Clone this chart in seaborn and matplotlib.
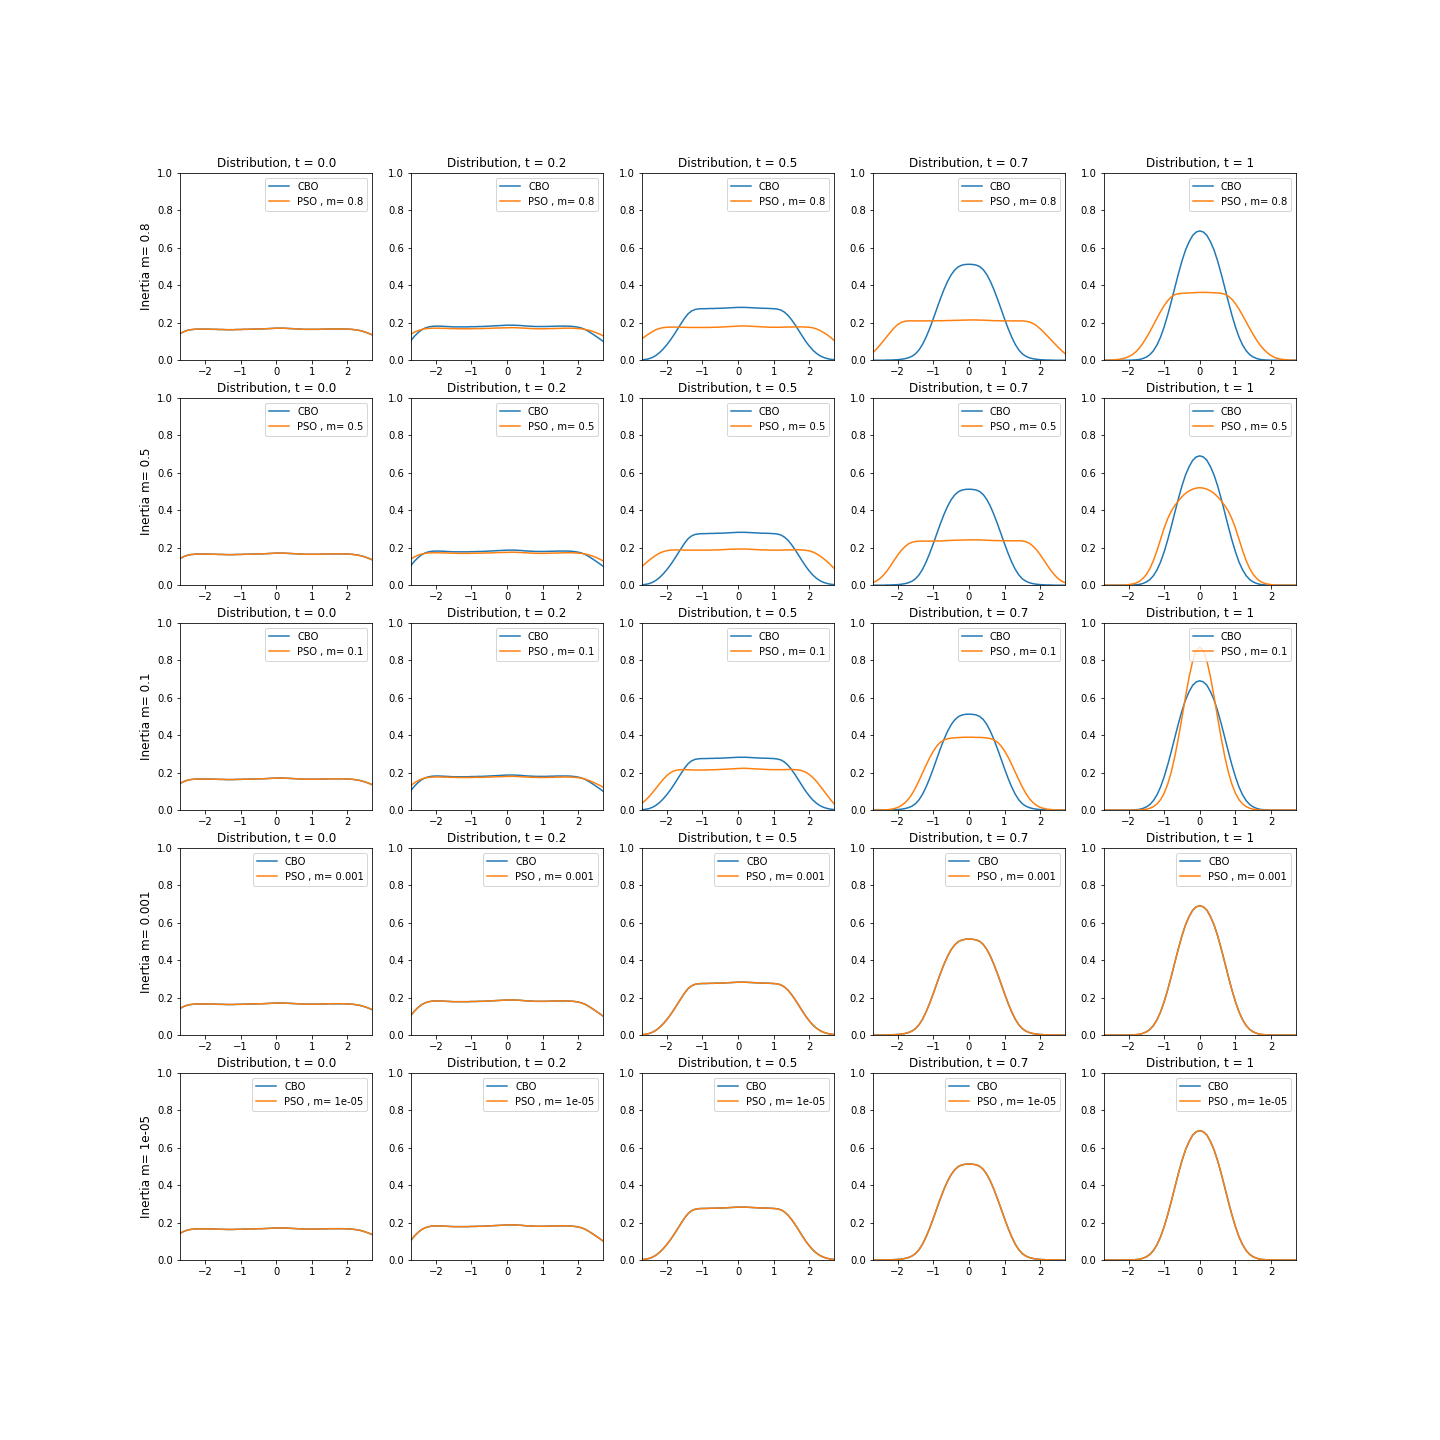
import numpy as np
import pandas as pd
import matplotlib
matplotlib.use("Agg")
import matplotlib.pyplot as plt
import seaborn as sns

# evaluation grid of the density curves
x = np.round(np.linspace(-2.7, 2.7, 55), 1)

times = ["0.0", "0.2", "0.5", "0.7", "1"]
inertias = [0.8, 0.5, 0.1, 0.001, 1e-05]

# t = 0.0 : initial distribution (same for every method)
dens_t00 = [0.142, 0.152, 0.159, 0.163, 0.165, 0.166, 0.166, 0.166, 0.166, 0.165,
            0.165, 0.164, 0.164, 0.163, 0.163, 0.163, 0.164, 0.164, 0.165, 0.165,
            0.166, 0.166, 0.167, 0.167, 0.168, 0.169, 0.170, 0.171, 0.171, 0.171,
            0.170, 0.169, 0.168, 0.167, 0.166, 0.165, 0.165, 0.165, 0.165, 0.165,
            0.166, 0.166, 0.167, 0.167, 0.167, 0.167, 0.167, 0.166, 0.165, 0.163,
            0.160, 0.156, 0.150, 0.143, 0.135]

# CBO densities
cbo_t02 = [0.105, 0.128, 0.147, 0.162, 0.172, 0.178, 0.181, 0.182, 0.182, 0.181,
           0.180, 0.179, 0.178, 0.178, 0.178, 0.178, 0.178, 0.179, 0.179, 0.180,
           0.180, 0.181, 0.182, 0.183, 0.184, 0.185, 0.186, 0.187, 0.187, 0.187,
           0.186, 0.185, 0.183, 0.182, 0.181, 0.180, 0.180, 0.180, 0.180, 0.181,
           0.181, 0.182, 0.182, 0.182, 0.182, 0.181, 0.179, 0.176, 0.171, 0.163,
           0.152, 0.140, 0.127, 0.114, 0.100]
cbo_t05 = [0.002, 0.004, 0.008, 0.015, 0.026, 0.041, 0.060, 0.082, 0.107, 0.135,
           0.165, 0.195, 0.224, 0.248, 0.263, 0.271, 0.274, 0.275, 0.275, 0.276,
           0.276, 0.277, 0.277, 0.278, 0.279, 0.280, 0.281, 0.282, 0.282, 0.282,
           0.281, 0.280, 0.279, 0.278, 0.277, 0.277, 0.276, 0.275, 0.273, 0.268,
           0.257, 0.240, 0.217, 0.190, 0.160, 0.130, 0.101, 0.076, 0.054, 0.037,
           0.024, 0.015, 0.009, 0.005, 0.003]
cbo_t07 = [0.000, 0.000, 0.000, 0.000, 0.001, 0.001, 0.002, 0.003, 0.005, 0.008,
           0.013, 0.021, 0.034, 0.055, 0.085, 0.124, 0.170, 0.221, 0.275, 0.328,
           0.377, 0.420, 0.455, 0.481, 0.498, 0.507, 0.511, 0.512, 0.511, 0.508,
           0.500, 0.484, 0.458, 0.422, 0.378, 0.328, 0.275, 0.221, 0.170, 0.124,
           0.085, 0.055, 0.034, 0.021, 0.013, 0.008, 0.005, 0.003, 0.002, 0.001,
           0.001, 0.000, 0.000, 0.000, 0.000]
cbo_t10 = [0, 0, 0, 0, 0, 0, 0, 0, 0.001, 0.002,
           0.004, 0.009, 0.017, 0.030, 0.051, 0.082, 0.124, 0.178, 0.242, 0.313,
           0.388, 0.462, 0.530, 0.588, 0.632, 0.666, 0.684, 0.690, 0.684, 0.666,
           0.632, 0.588, 0.530, 0.462, 0.388, 0.313, 0.242, 0.178, 0.124, 0.082,
           0.051, 0.030, 0.017, 0.009, 0.004, 0.002, 0.001, 0, 0, 0,
           0, 0, 0, 0, 0]

# PSO, m = 0.8
pso08_t02 = [0.140, 0.150, 0.158, 0.164, 0.168, 0.170, 0.171, 0.171, 0.171, 0.170,
             0.170, 0.169, 0.169, 0.168, 0.168, 0.168, 0.168, 0.168, 0.169, 0.169,
             0.169, 0.170, 0.170, 0.171, 0.172, 0.172, 0.173, 0.173, 0.174, 0.174,
             0.173, 0.172, 0.171, 0.170, 0.169, 0.168, 0.168, 0.168, 0.168, 0.169,
             0.169, 0.170, 0.170, 0.171, 0.171, 0.171, 0.170, 0.169, 0.167, 0.164,
             0.160, 0.154, 0.147, 0.139, 0.130]
pso08_t05 = [0.115, 0.128, 0.141, 0.153, 0.163, 0.170, 0.174, 0.176, 0.177, 0.177,
             0.177, 0.176, 0.176, 0.175, 0.175, 0.175, 0.175, 0.175, 0.175, 0.175,
             0.176, 0.176, 0.177, 0.178, 0.179, 0.180, 0.181, 0.182, 0.183, 0.183,
             0.182, 0.181, 0.180, 0.179, 0.178, 0.177, 0.176, 0.176, 0.176, 0.176,
             0.177, 0.177, 0.177, 0.178, 0.178, 0.178, 0.177, 0.176, 0.173, 0.167,
             0.159, 0.148, 0.136, 0.122, 0.105]
pso08_t07 = [0.040, 0.058, 0.080, 0.103, 0.127, 0.150, 0.172, 0.190, 0.202, 0.208,
             0.210, 0.210, 0.210, 0.210, 0.210, 0.210, 0.210, 0.210, 0.211, 0.211,
             0.211, 0.212, 0.212, 0.213, 0.213, 0.214, 0.214, 0.215, 0.215, 0.215,
             0.214, 0.214, 0.213, 0.212, 0.211, 0.211, 0.210, 0.210, 0.210, 0.210,
             0.210, 0.210, 0.210, 0.208, 0.204, 0.196, 0.184, 0.168, 0.150, 0.130,
             0.110, 0.090, 0.070, 0.052, 0.035]
pso08_t10 = [0, 0, 0.001, 0.002, 0.004, 0.007, 0.012, 0.019, 0.029, 0.044,
             0.064, 0.090, 0.120, 0.153, 0.189, 0.225, 0.260, 0.292, 0.318, 0.338,
             0.350, 0.355, 0.357, 0.358, 0.359, 0.360, 0.361, 0.362, 0.362, 0.362,
             0.361, 0.360, 0.359, 0.357, 0.352, 0.342, 0.325, 0.302, 0.273, 0.240,
             0.205, 0.170, 0.137, 0.106, 0.079, 0.057, 0.039, 0.025, 0.015, 0.009,
             0.005, 0.003, 0.001, 0, 0]

# PSO, m = 0.5
pso05_t02 = [0.140, 0.151, 0.160, 0.166, 0.170, 0.172, 0.173, 0.173, 0.173, 0.172,
             0.172, 0.171, 0.171, 0.170, 0.170, 0.170, 0.170, 0.170, 0.171, 0.171,
             0.171, 0.172, 0.172, 0.173, 0.174, 0.174, 0.175, 0.175, 0.176, 0.176,
             0.175, 0.174, 0.173, 0.172, 0.171, 0.170, 0.170, 0.170, 0.170, 0.171,
             0.171, 0.172, 0.172, 0.173, 0.173, 0.173, 0.172, 0.171, 0.169, 0.166,
             0.161, 0.155, 0.148, 0.139, 0.129]
pso05_t05 = [0.100, 0.116, 0.132, 0.147, 0.160, 0.171, 0.179, 0.184, 0.187, 0.188,
             0.188, 0.188, 0.187, 0.187, 0.187, 0.187, 0.187, 0.187, 0.187, 0.187,
             0.188, 0.188, 0.189, 0.190, 0.191, 0.192, 0.192, 0.193, 0.193, 0.193,
             0.192, 0.191, 0.190, 0.189, 0.188, 0.188, 0.187, 0.187, 0.187, 0.187,
             0.188, 0.188, 0.188, 0.189, 0.189, 0.188, 0.186, 0.183, 0.177, 0.168,
             0.156, 0.142, 0.126, 0.108, 0.090]
pso05_t07 = [0.013, 0.022, 0.035, 0.053, 0.076, 0.103, 0.132, 0.160, 0.185, 0.205,
             0.220, 0.229, 0.233, 0.235, 0.235, 0.235, 0.235, 0.235, 0.236, 0.236,
             0.237, 0.238, 0.239, 0.240, 0.240, 0.241, 0.241, 0.242, 0.242, 0.242,
             0.241, 0.241, 0.240, 0.239, 0.238, 0.238, 0.237, 0.237, 0.237, 0.237,
             0.237, 0.237, 0.236, 0.232, 0.223, 0.208, 0.188, 0.163, 0.135, 0.106,
             0.079, 0.055, 0.036, 0.022, 0.013]
pso05_t10 = [0, 0, 0, 0, 0, 0, 0.001, 0.003, 0.006, 0.011,
             0.020, 0.035, 0.057, 0.089, 0.132, 0.185, 0.245, 0.305, 0.355, 0.395,
             0.425, 0.450, 0.472, 0.490, 0.503, 0.512, 0.518, 0.520, 0.518, 0.512,
             0.503, 0.490, 0.472, 0.450, 0.425, 0.395, 0.355, 0.305, 0.245, 0.185,
             0.132, 0.089, 0.057, 0.035, 0.020, 0.011, 0.006, 0.003, 0.001, 0,
             0, 0, 0, 0, 0]

# PSO, m = 0.1
pso01_t02 = [0.132, 0.146, 0.157, 0.166, 0.172, 0.175, 0.176, 0.177, 0.177, 0.176,
             0.176, 0.175, 0.175, 0.174, 0.174, 0.174, 0.174, 0.174, 0.175, 0.175,
             0.175, 0.176, 0.176, 0.177, 0.178, 0.178, 0.179, 0.180, 0.180, 0.180,
             0.179, 0.178, 0.177, 0.176, 0.175, 0.175, 0.174, 0.174, 0.174, 0.175,
             0.175, 0.176, 0.176, 0.177, 0.177, 0.176, 0.175, 0.173, 0.170, 0.165,
             0.158, 0.150, 0.141, 0.132, 0.122]
pso01_t05 = [0.036, 0.052, 0.071, 0.093, 0.117, 0.141, 0.164, 0.184, 0.199, 0.209,
             0.214, 0.216, 0.216, 0.215, 0.215, 0.214, 0.214, 0.214, 0.214, 0.215,
             0.215, 0.216, 0.217, 0.218, 0.219, 0.220, 0.221, 0.222, 0.223, 0.223,
             0.222, 0.221, 0.220, 0.219, 0.218, 0.217, 0.216, 0.216, 0.216, 0.216,
             0.216, 0.217, 0.217, 0.216, 0.214, 0.210, 0.202, 0.190, 0.174, 0.154,
             0.130, 0.105, 0.080, 0.055, 0.033]
pso01_t07 = [0.000, 0.000, 0.001, 0.001, 0.002, 0.004, 0.008, 0.014, 0.024, 0.038,
             0.058, 0.085, 0.118, 0.157, 0.199, 0.240, 0.280, 0.314, 0.342, 0.362,
             0.374, 0.381, 0.384, 0.386, 0.387, 0.388, 0.389, 0.389, 0.389, 0.388,
             0.388, 0.387, 0.385, 0.382, 0.375, 0.363, 0.343, 0.316, 0.283, 0.244,
             0.203, 0.162, 0.123, 0.089, 0.061, 0.040, 0.025, 0.015, 0.009, 0.005,
             0.003, 0.001, 0.001, 0.000, 0.000]
pso01_t10 = [0, 0, 0, 0, 0, 0, 0, 0, 0, 0,
             0.001, 0.003, 0.005, 0.010, 0.019, 0.033, 0.056, 0.090, 0.139, 0.204,
             0.287, 0.385, 0.494, 0.606, 0.710, 0.795, 0.851, 0.870, 0.851, 0.795,
             0.710, 0.606, 0.494, 0.385, 0.287, 0.204, 0.139, 0.090, 0.056, 0.033,
             0.019, 0.010, 0.005, 0.003, 0.001, 0, 0, 0, 0, 0,
             0, 0, 0, 0, 0]

cbo = [dens_t00, cbo_t02, cbo_t05, cbo_t07, cbo_t10]
pso = [
    [dens_t00, pso08_t02, pso08_t05, pso08_t07, pso08_t10],
    [dens_t00, pso05_t02, pso05_t05, pso05_t07, pso05_t10],
    [dens_t00, pso01_t02, pso01_t05, pso01_t07, pso01_t10],
    cbo,  # m = 0.001 : PSO coincides with CBO
    cbo,  # m = 1e-05
]

fig, axes = plt.subplots(5, 5, figsize=(20, 20), dpi=72)
fig.subplots_adjust(left=0.125, right=0.9, top=0.88, bottom=0.125,
                    wspace=0.2, hspace=0.2)

for i, m in enumerate(inertias):
    for j, t in enumerate(times):
        ax = axes[i, j]
        df = pd.DataFrame({"x": x, "CBO": cbo[j], "PSO": pso[i][j]})
        sns.lineplot(data=df, x="x", y="CBO", ax=ax, color="#1f77b4", label="CBO")
        sns.lineplot(data=df, x="x", y="PSO", ax=ax, color="#ff7f0e",
                     label=f"PSO , m= {m}")
        ax.set_xlim(-2.7, 2.7)
        ax.set_ylim(0, 1)
        ax.set_title(f"Distribution, t = {t}")
        ax.set_xlabel("")
        ax.set_ylabel(f"Inertia m= {m}" if j == 0 else "", fontsize=12)
        ax.legend(loc="upper right")

fig.savefig("out.png", dpi=72)
